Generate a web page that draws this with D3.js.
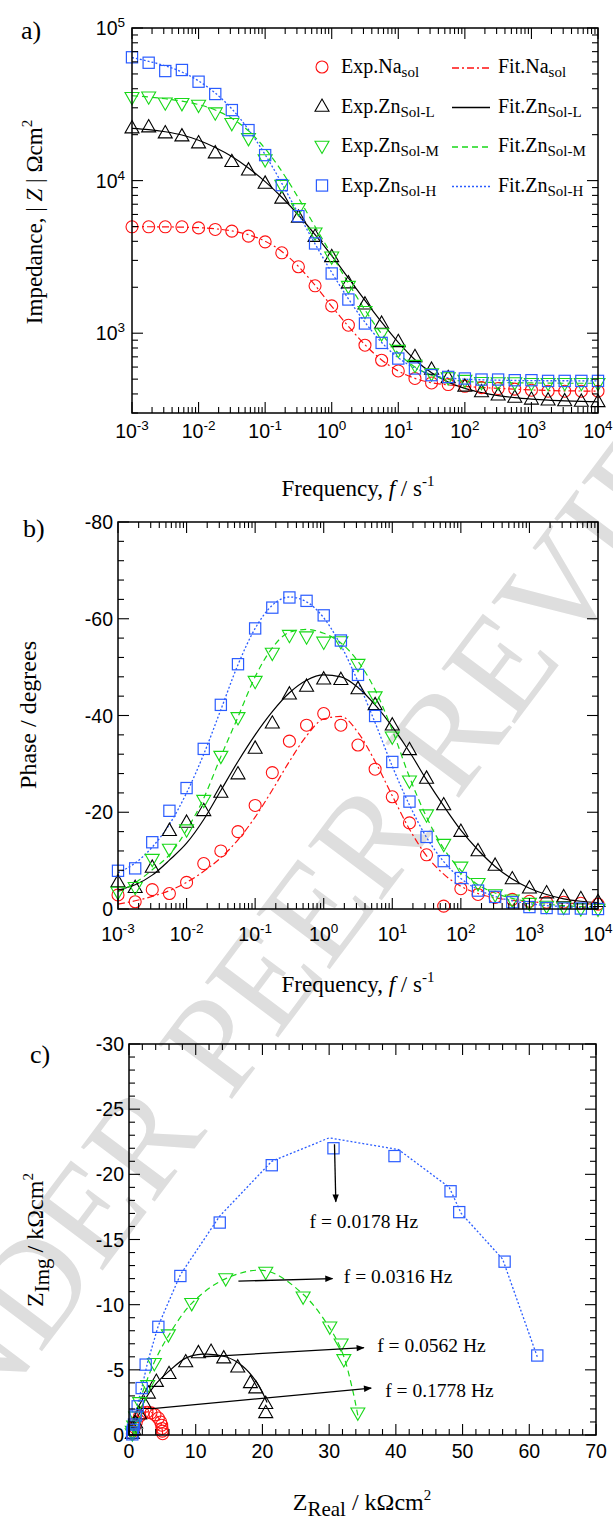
<!DOCTYPE html>
<html><head><meta charset="utf-8">
<script src="https://cdn.jsdelivr.net/npm/d3@7"></script>
<style>body{margin:0;background:#fff}svg{display:block}</style>
</head><body>
<svg id="c" width="613" height="1526"></svg>
<script>
// ---------------- DATA ----------------
const freq = [0.001,0.00178,0.00316,0.00562,0.01,0.0178,0.0316,0.0562,0.1,0.178,0.316,0.562,1,1.78,3.16,5.62,10,17.8,31.6,56.2,100,178,316,562,1000,1780,3160,5620,10000];

// |Z| (ohm cm2)
const zNaExp = [4980,4980,4980,4980,4900,4785,4665,4325,3970,3365,2725,2045,1510,1128,834,665,566,505,472,461,449,440,434,430,423,417,417,417,417];
const zLExp  = [22090,22430,20490,19570,17620,15150,13290,11710,9590,7650,5740,4300,3165,2130,1550,1158,878,700,579,510,449,412,392,379,369,364,360,357,355];
const zMExp  = [35130,35440,32370,32070,31260,27850,23730,18910,13740,9340,6570,4550,3165,2034,1393,995,774,617,544,512,492,477,475,475,470,470,470,470,470];
const zHExp  = [64270,59210,52230,53070,44470,36930,28980,21420,14690,9340,5850,3874,2463,1663,1158,864,682,587,531,517,505,497,497,492,492,487,487,487,487];
const zNaFit = [4990,4985,4975,4955,4915,4830,4680,4420,4010,3430,2740,2060,1500,1110,840,668,565,506,474,458,448,441,435,430,425,421,419,418,417];
const zLFit  = [22000,21600,20900,19900,18400,16500,14400,12100,9850,7780,5950,4420,3220,2300,1640,1180,870,670,550,478,435,408,390,378,370,364,360,357,355];
const zMFit  = [36000,35300,34400,33200,31500,29000,25600,21200,16200,11500,7700,5000,3260,2130,1420,990,740,600,530,498,484,478,475,473,472,471,470,470,470];
const zHFit  = [64000,60500,56500,51500,45000,37500,29500,21600,14800,9600,6050,3850,2500,1680,1180,870,690,590,535,510,500,495,492,490,489,488,488,487,487];

// phase (degrees)
const pNaExp = [-2.9,-1.5,-4.0,-3.2,-5.5,-9.4,-12.0,-16.0,-21.4,-28.2,-34.7,-38.0,-40.4,-38.0,-33.9,-28.9,-23.2,-17.8,-11.2,-0.6,-4.2,-3.0,-2.4,-2.0,-1.6,-1.4,-1.4,-1.2,-1.0];
const pLExp  = [-5.6,-4.4,-8.6,-16.2,-17.9,-20.3,-24.1,-27.9,-33.2,-38.4,-44.4,-46.0,-47.5,-47.4,-45.5,-42.2,-38.0,-32.9,-27.0,-21.5,-16.0,-12.0,-9.0,-6.2,-4.3,-3.3,-2.5,-2.1,-1.5];
const pMExp  = [-3.5,-4.5,-10.3,-12.4,-16.4,-22.5,-31.6,-39.6,-47.1,-52.9,-56.6,-56.3,-55.2,-55.3,-50.6,-43.9,-35.6,-26.5,-19.5,-13.4,-8.7,-5.3,-3.0,-1.9,-1.2,-0.6,-0.4,-0.1,0];
const pHExp  = [-7.9,-8.4,-13.8,-20.3,-25.0,-33.1,-42.2,-50.6,-58.0,-62.3,-64.4,-63.7,-60.7,-55.5,-48.4,-39.9,-30.4,-22.2,-14.9,-9.9,-6.4,-3.8,-2.5,-1.4,-0.4,-0.2,-0.1,-0.1,0];
const pNaFit = [-1.0,-1.7,-2.6,-3.8,-5.5,-7.8,-10.6,-14.3,-19.0,-24.6,-30.5,-35.8,-39.3,-39.8,-36.5,-30.5,-23.4,-16.5,-11.0,-7.2,-4.7,-3.2,-2.3,-1.8,-1.5,-1.3,-1.2,-1.1,-1.0];
const pLFit  = [-3.9,-5.0,-7.0,-10.1,-13.6,-18.5,-24.5,-30.5,-36.0,-40.8,-44.7,-47.3,-48.4,-48.0,-45.8,-42.2,-37.7,-32.5,-26.7,-21.3,-16.3,-12.2,-8.8,-6.2,-4.3,-3.0,-2.1,-1.6,-1.3];
const pMFit  = [-3.6,-5.4,-8.1,-11.2,-16.3,-22.9,-31.5,-39.7,-48.0,-54.0,-57.2,-57.8,-57.0,-55.0,-51.2,-45.3,-37.0,-27.3,-19.0,-12.5,-8.0,-5.0,-3.3,-2.2,-1.5,-1.0,-0.7,-0.5,-0.4];
const pHFit  = [-7.5,-9.5,-12.8,-17.5,-24.0,-32.0,-41.2,-50.5,-58.0,-62.8,-64.5,-63.5,-60.2,-54.5,-47.0,-38.5,-29.5,-21.5,-14.8,-9.8,-6.3,-4.0,-2.6,-1.7,-1.1,-0.7,-0.5,-0.3,-0.2];

// Nyquist (kohm cm2)
const nNaRe = [5.05,5.0,4.95,4.9,4.75,4.4,3.9,3.3,2.7,2.1,1.6,1.1,0.8,0.6,0.5];
const nNaIm = [-0.1,-0.3,-0.5,-0.75,-1.0,-1.3,-1.55,-1.7,-1.75,-1.7,-1.45,-1.0,-0.6,-0.3,-0.1];
const nLRe  = [20.5,20.5,19.0,18.2,16.3,14.2,12.3,10.4,8.5,6.0,4.1,2.9,2.3,1.6,1.0,0.7,0.5];
const nLIm  = [-1.7,-2.4,-3.6,-4.0,-5.2,-5.9,-6.4,-6.3,-5.6,-4.7,-4.1,-3.2,-2.4,-1.6,-0.9,-0.4,-0.1];
const nMRe  = [34.3,32.2,31.8,30.1,26.1,20.5,14.5,9.4,5.9,3.8,2.8,1.6,1.0,0.7,0.5,0.5];
const nMIm  = [-1.7,-5.8,-7.0,-8.3,-10.6,-12.5,-12.0,-10.1,-7.7,-5.5,-3.8,-2.5,-1.4,-0.7,-0.3,-0.1];
const nHRe  = [61.2,56.3,49.5,48.2,39.8,30.65,21.4,13.6,7.7,4.4,2.5,1.9,1.3,1.0,0.75,0.6,0.5,0.5];
const nHIm  = [-6.1,-13.3,-17.1,-18.7,-21.4,-22.0,-20.7,-16.3,-12.2,-8.3,-5.4,-3.6,-2.2,-1.5,-0.8,-0.4,-0.2,-0.05];
const fNaRe = [5.05,4.95,4.7,4.2,3.5,2.8,2.1,1.5,1.0,0.6,0.45];
const fNaIm = [0,-0.5,-1.05,-1.45,-1.7,-1.78,-1.7,-1.35,-0.9,-0.4,0];
const fLRe  = [20.7,19.2,17.0,14.5,11.0,8.5,6.0,4.0,2.5,1.5,0.8,0.5];
const fLIm  = [-2.5,-4.0,-5.3,-6.0,-6.2,-5.9,-4.9,-3.9,-2.8,-1.6,-0.7,0];
const fMRe  = [34.3,33.5,32.0,30.1,26.1,20.5,14.5,9.4,5.9,3.8,2.4,1.4,0.8,0.5];
const fMIm  = [-1.5,-3.5,-6.3,-8.2,-10.8,-12.6,-12.0,-10.1,-7.6,-5.6,-3.8,-2.3,-1.0,0];
const fHRe  = [61.2,56.0,49.8,48.0,40.4,30.0,21.4,13.6,7.7,4.4,2.8,2.0,1.4,0.9,0.6,0.5];
const fHIm  = [-6.0,-13.5,-17.0,-19.0,-21.9,-22.8,-21.0,-16.8,-12.3,-8.4,-5.6,-3.8,-2.6,-1.6,-0.6,0];

// annotations (Nyquist units)
const annText = ["f = 0.0178 Hz","f = 0.0316 Hz","f = 0.0562 Hz","f = 0.1778 Hz"];
const annFrom = [[30.8,-22.3],[16.4,-11.8],[11.1,-6.0],[3.15,-2.0]];
const annTo   = [[31.0,-17.9],[30.5,-12.0],[35.2,-6.7],[36.3,-3.6]];
const annPos  = [[35.2,-15.9],[32.2,-11.7],[37.2,-6.4],[38.4,-2.9]];
const annAnchor = ["middle","start","start","start"];

const decadeExp = [-3,-2,-1,0,1,2,3,4];
const zExp = [3,4,5];
const phaseTicks = [0,-20,-40,-60,-80];
const nyqXTicks = [0,10,20,30,40,50,60,70];
const nyqYTicks = [0,-5,-10,-15,-20,-25,-30];

const legExp = ["Exp.Na","Exp.Zn","Exp.Zn","Exp.Zn"];
const legFit = ["Fit.Na","Fit.Zn","Fit.Zn","Fit.Zn"];
const legSub = ["sol","Sol-L","Sol-M","Sol-H"];

// ---------------- STYLE ----------------
const COL = ["#ff1010","#000000","#18d818","#2a5cff"];
const DASH = ["7,3,2,3", null, "6,4", "2,2"];
const SHAPE = ["circle","up","down","square"];
const SERIF = "'Liberation Serif','Times New Roman',serif";
const SANS = "'Liberation Sans',Arial,Helvetica,sans-serif";

const svg = d3.select("#c");

// watermark
const wm = svg.append("g").attr("transform","translate(229,1103) rotate(-53)")
  .attr("font-family",SERIF).attr("font-size",140).attr("fill","#dedede");
wm.append("text").attr("text-anchor","end").text("UNDER\u00a0");
wm.append("text").attr("text-anchor","start").text("PEER REVIEW");

function marker(g, shape, cx, cy, color) {
  if (shape === "circle") {
    g.append("circle").attr("cx",cx).attr("cy",cy).attr("r",6)
      .attr("fill","none").attr("stroke",color).attr("stroke-width",1.1);
  } else if (shape === "square") {
    g.append("rect").attr("x",cx-5.6).attr("y",cy-5.6).attr("width",11.2).attr("height",11.2)
      .attr("fill","none").attr("stroke",color).attr("stroke-width",1.2);
  } else {
    const s = shape === "up" ? 1 : -1;
    const p = d3.path();
    p.moveTo(cx, cy - 7.5*s); p.lineTo(cx+7, cy + 4.8*s); p.lineTo(cx-7, cy + 4.8*s); p.closePath();
    g.append("path").attr("d",p.toString()).attr("fill","none").attr("stroke",color).attr("stroke-width",1.1);
  }
}

function frame(x, y, xt, yt) {
  const g = svg.append("g");
  const [x0,x1] = x.range(), [y0,y1] = y.range();
  xt.forEach(t => {
    const L = t.major ? 11 : 6, px = x(t.v);
    g.append("line").attr("x1",px).attr("x2",px).attr("y1",y0).attr("y2",y0-L).attr("stroke","#000").attr("stroke-width",1.1);
    g.append("line").attr("x1",px).attr("x2",px).attr("y1",y1).attr("y2",y1+L).attr("stroke","#000").attr("stroke-width",1.1);
  });
  yt.forEach(t => {
    const L = t.major ? 11 : 6, py = y(t.v);
    g.append("line").attr("x1",x0).attr("x2",x0+L).attr("y1",py).attr("y2",py).attr("stroke","#000").attr("stroke-width",1.1);
    g.append("line").attr("x1",x1).attr("x2",x1-L).attr("y1",py).attr("y2",py).attr("stroke","#000").attr("stroke-width",1.1);
  });
  g.append("rect").attr("x",x0).attr("y",y1).attr("width",x1-x0).attr("height",y0-y1)
    .attr("fill","none").attr("stroke","#000").attr("stroke-width",1.5);
}
const isDecade = v => Math.abs(Math.log10(v) - Math.round(Math.log10(v))) < 1e-6;
function logTicks(s) { return s.ticks().map(v => ({v, major: isDecade(v)})); }
function linTicks(lo, hi, step, majorStep) {
  const out = [];
  for (let v = lo; v <= hi + 1e-9; v += step) out.push({v, major: Math.abs(v/majorStep - Math.round(v/majorStep)) < 1e-6});
  return out;
}

function powLabel(g, px, py, e, anchor) {
  const t = g.append("text").attr("x",px).attr("y",py).attr("text-anchor",anchor)
    .attr("font-family",SANS).attr("font-size",19.5);
  t.append("tspan").text("10");
  t.append("tspan").attr("dy",-8).attr("font-size",13.5).text(String(e));
}

function freqTitle(cx, by) {
  const t = svg.append("text").attr("x",cx).attr("y",by).attr("text-anchor","middle")
    .attr("font-family",SERIF).attr("font-size",23);
  t.append("tspan").text("Frequency, ");
  t.append("tspan").attr("font-style","italic").text("f");
  t.append("tspan").text(" / s");
  t.append("tspan").attr("dy",-10).attr("font-size",15).text("-1");
}

// ================= PANEL A =================
const xa = d3.scaleLog().domain([1e-3,1e4]).range([132,598]);
const ya = d3.scaleLog().domain([300,1e5]).range([413,28]);
{
  const g = svg.append("g");
  const exps = [zNaExp,zLExp,zMExp,zHExp], fits = [zNaFit,zLFit,zMFit,zHFit];
  const line = d3.line().x((d,i)=>xa(freq[i])).y(d=>ya(d)).curve(d3.curveMonotoneX);
  fits.forEach((f,s) => {
    g.append("path").attr("d",line(f)).attr("fill","none").attr("stroke",COL[s])
      .attr("stroke-width",s===3?1.3:1.2).attr("stroke-dasharray",DASH[s]);
  });
  exps.forEach((e,s) => e.forEach((v,i) => marker(g, SHAPE[s], xa(freq[i]), ya(v), COL[s])));
  frame(xa, ya, logTicks(xa), logTicks(ya));
  decadeExp.forEach(e => powLabel(svg, xa(Math.pow(10,e)), 438, e, "middle"));
  zExp.forEach(e => powLabel(svg, 125, ya(Math.pow(10,e))+7, e, "end"));
  freqTitle(358, 496);
  const yt = svg.append("text").attr("transform","translate(42,222) rotate(-90)").attr("text-anchor","middle")
    .attr("font-family",SERIF).attr("font-size",23);
  yt.append("tspan").text("Impedance, | ");
  yt.append("tspan").attr("font-style","italic").text("Z");
  yt.append("tspan").text(" | \u03A9cm");
  yt.append("tspan").attr("dy",-10).attr("font-size",15).text("2");
  svg.append("text").attr("x",21).attr("y",39).attr("font-family",SERIF).attr("font-size",26).text("a)");

  // legend
  const lg = svg.append("g").attr("font-family",SERIF).attr("font-size",20);
  legExp.forEach((lab,i) => {
    const cy = 67 + i*39.5;
    marker(lg, SHAPE[i], 322, cy, COL[i]);
    const t = lg.append("text").attr("x",341).attr("y",cy+6);
    t.append("tspan").text(lab);
    t.append("tspan").attr("dy",4).attr("font-size",15).text(legSub[i]);
    lg.append("line").attr("x1",452).attr("x2",490).attr("y1",cy+1).attr("y2",cy+1)
      .attr("stroke",COL[i]).attr("stroke-width",1.3).attr("stroke-dasharray",DASH[i]);
    const t2 = lg.append("text").attr("x",498).attr("y",cy+6);
    t2.append("tspan").text(legFit[i]);
    t2.append("tspan").attr("dy",4).attr("font-size",15).text(legSub[i]);
  });
}

// ================= PANEL B =================
const xb = d3.scaleLog().domain([1e-3,1e4]).range([118,598]);
const yb = d3.scaleLinear().domain([0,-80]).range([909,522]);
{
  const g = svg.append("g");
  const exps = [pNaExp,pLExp,pMExp,pHExp], fits = [pNaFit,pLFit,pMFit,pHFit];
  const line = d3.line().x((d,i)=>xb(freq[i])).y(d=>yb(d)).curve(d3.curveMonotoneX);
  fits.forEach((f,s) => {
    g.append("path").attr("d",line(f)).attr("fill","none").attr("stroke",COL[s])
      .attr("stroke-width",s===3?1.3:1.2).attr("stroke-dasharray",DASH[s]);
  });
  exps.forEach((e,s) => e.forEach((v,i) => marker(g, SHAPE[s], xb(freq[i]), yb(v), COL[s])));
  frame(xb, yb, logTicks(xb), linTicks(-80,0,4,20));
  decadeExp.forEach(e => powLabel(svg, xb(Math.pow(10,e)), 941, e, "middle"));
  phaseTicks.forEach(v => svg.append("text").attr("x",113).attr("y",yb(v)+7).attr("text-anchor","end")
    .attr("font-family",SANS).attr("font-size",19.5).text(v));
  freqTitle(358, 992);
  svg.append("text").attr("transform","translate(36,715) rotate(-90)").attr("text-anchor","middle")
    .attr("font-family",SERIF).attr("font-size",24).text("Phase / degrees");
  svg.append("text").attr("x",23).attr("y",537).attr("font-family",SERIF).attr("font-size",26).text("b)");
}

// ================= PANEL C =================
const xc = d3.scaleLinear().domain([0,70]).range([129,596]);
const yc = d3.scaleLinear().domain([0,-30]).range([1435,1044]);
{
  const g = svg.append("g");
  const er = [nNaRe,nLRe,nMRe,nHRe], ei = [nNaIm,nLIm,nMIm,nHIm];
  const fr = [fNaRe,fLRe,fMRe,fHRe], fi = [fNaIm,fLIm,fMIm,fHIm];
  fr.forEach((r,s) => {
    const pts = r.map((v,i)=>[xc(v), yc(fi[s][i])]);
    const line = d3.line().curve(s===3 ? d3.curveLinear : d3.curveCatmullRom.alpha(0.5));
    g.append("path").attr("d",line(pts)).attr("fill","none").attr("stroke",COL[s])
      .attr("stroke-width",s===3?1.3:1.2).attr("stroke-dasharray",DASH[s]);
  });
  er.forEach((r,s) => r.forEach((v,i) => marker(g, SHAPE[s], xc(v), yc(ei[s][i]), COL[s])));
  frame(xc, yc, linTicks(0,70,2,10), linTicks(-30,0,1,5));
  nyqXTicks.forEach(v => svg.append("text").attr("x",xc(v)).attr("y",1458).attr("text-anchor","middle")
    .attr("font-family",SANS).attr("font-size",19.5).text(v));
  nyqYTicks.forEach(v => svg.append("text").attr("x",124).attr("y",yc(v)+7).attr("text-anchor","end")
    .attr("font-family",SANS).attr("font-size",19.5).text(v));

  // arrows
  const defs = svg.append("defs");
  defs.append("marker").attr("id","ah").attr("viewBox","0 0 10 10").attr("refX",9).attr("refY",5)
    .attr("markerWidth",10).attr("markerHeight",8).attr("markerUnits","userSpaceOnUse").attr("orient","auto")
    .append("path").attr("d","M0,1 L10,5 L0,9 Z").attr("fill","#000");
  annText.forEach((t,i) => {
    svg.append("line").attr("x1",xc(annFrom[i][0])).attr("y1",yc(annFrom[i][1]))
      .attr("x2",xc(annTo[i][0])).attr("y2",yc(annTo[i][1]))
      .attr("stroke","#000").attr("stroke-width",1.3).attr("marker-end","url(#ah)");
    svg.append("text").attr("x",xc(annPos[i][0])).attr("y",yc(annPos[i][1])).attr("text-anchor",annAnchor[i])
      .attr("font-family",SERIF).attr("font-size",19.5).text(t);
  });

  const xt = svg.append("text").attr("x",362).attr("y",1510).attr("text-anchor","middle")
    .attr("font-family",SERIF).attr("font-size",24);
  xt.append("tspan").text("Z");
  xt.append("tspan").attr("dy",6).attr("font-size",21).text("Real");
  xt.append("tspan").attr("dy",-6).text(" / k\u03A9cm");
  xt.append("tspan").attr("dy",-10).attr("font-size",15).text("2");

  const yt = svg.append("text").attr("transform","translate(43,1240) rotate(-90)").attr("text-anchor","middle")
    .attr("font-family",SERIF).attr("font-size",24);
  yt.append("tspan").text("Z");
  yt.append("tspan").attr("dy",6).attr("font-size",21).text("Img");
  yt.append("tspan").attr("dy",-6).text(" / k\u03A9cm");
  yt.append("tspan").attr("dy",-10).attr("font-size",15).text("2");
  svg.append("text").attr("x",30).attr("y",1063).attr("font-family",SERIF).attr("font-size",26).text("c)");
}
</script>
</body></html>
